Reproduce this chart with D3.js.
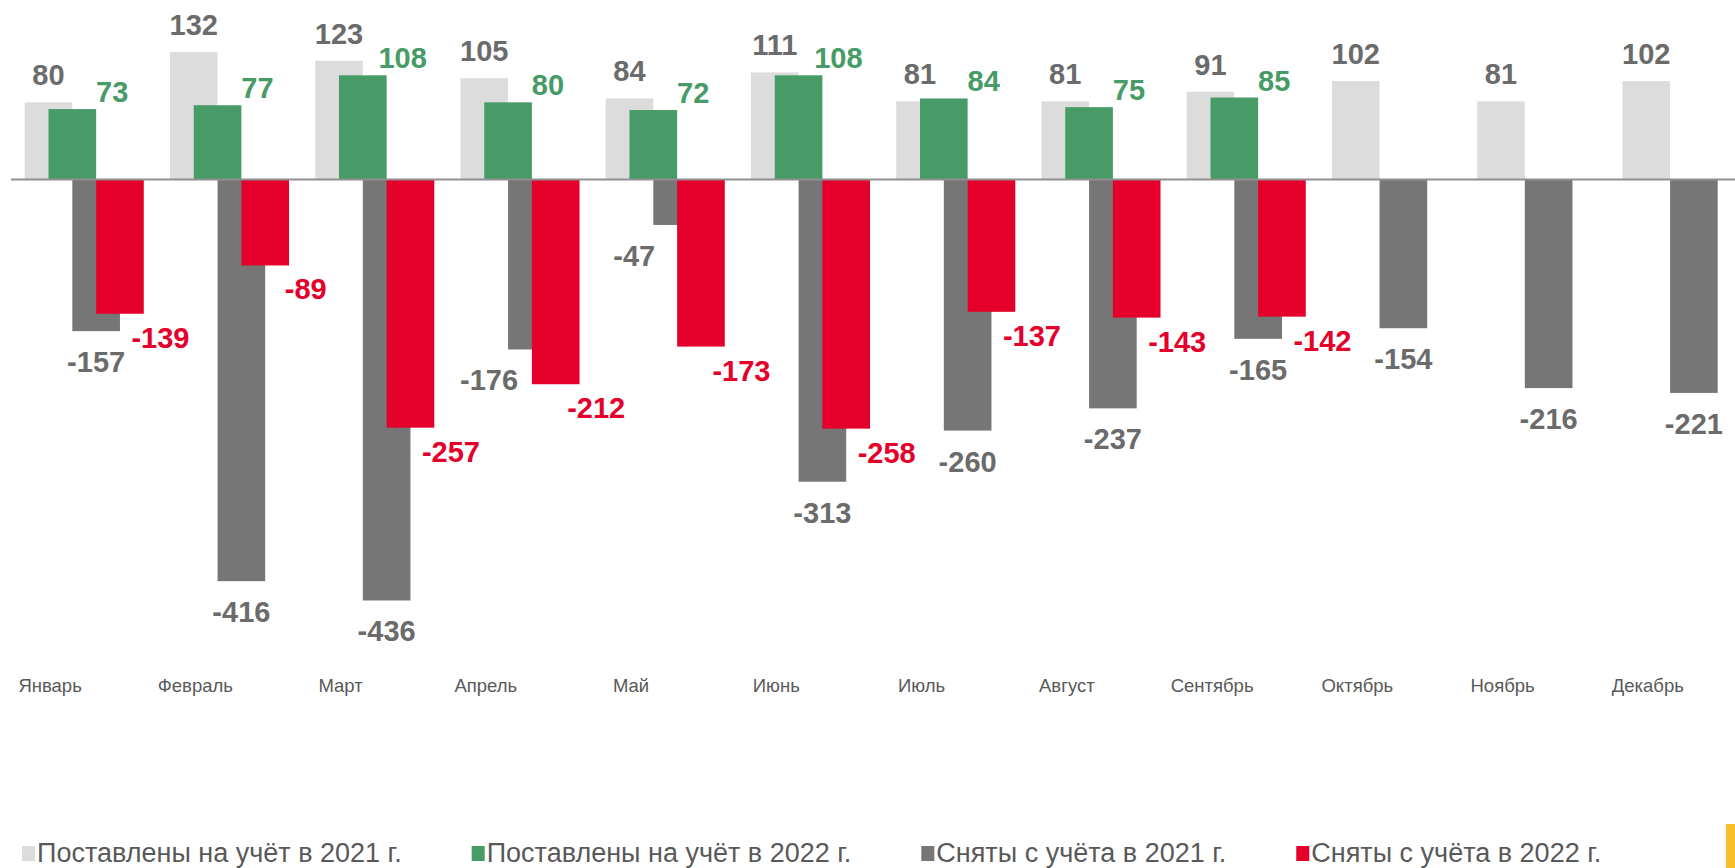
<!DOCTYPE html>
<html>
<head>
<meta charset="utf-8">
<script src="https://cdn.jsdelivr.net/npm/d3@7"></script>
<style>
  html, body { margin: 0; padding: 0; background: #fff; overflow: hidden; }
  svg { display: block; font-family: "Liberation Sans", Arial, sans-serif; }
</style>
</head>
<body>
<svg id="chart" width="1735" height="868"></svg>
<script>
//
// D A T A
//
var months = ['Январь', 'Февраль', 'Март', 'Апрель', 'Май', 'Июнь',
              'Июль', 'Август', 'Сентябрь', 'Октябрь', 'Ноябрь', 'Декабрь'];

var reg2021   = [80, 132, 123, 105, 84, 111, 81, 81, 91, 102, 81, 102];
var reg2022   = [73, 77, 108, 80, 72, 108, 84, 75, 85, null, null, null];
var dereg2021 = [-157, -416, -436, -176, -47, -313, -260, -237, -165, -154, -216, -221];
var dereg2022 = [-139, -89, -257, -212, -173, -258, -137, -143, -142, null, null, null];

var seriesNames = ['Поставлены на учёт в 2021 г.', 'Поставлены на учёт в 2022 г.',
                   'Сняты с учёта в 2021 г.', 'Сняты с учёта в 2022 г.'];

//
// S E T U P
//
var colors = ['#dcdcdc', '#469b66', '#767676', '#e4002b'];
var labelColors = ['#6b6b6b', '#469b66', '#6b6b6b', '#e4002b'];

var svg = d3.select('#chart');

// the band runs past the right edge, the original picture is cropped there
var bandW = 145.25;
var x = d3.scaleBand()
  .domain(months)
  .range([11.6, 11.6 + bandW * months.length])
  .paddingInner(0).paddingOuter(0);

var y = d3.scaleLinear()
  .domain([-450, 186])
  .range([614, 0]);

var barW   = bandW * 0.328;        // bars overlap by half their width
var step   = barW / 2;
var inset  = (x.bandwidth() - (barW + 3 * step)) / 2;

function barX(i, s){ return x(months[i]) + inset + s * step; }

var all = [reg2021, reg2022, dereg2021, dereg2022];

//
// B A R S
//
all.forEach(function(vals, s){
  svg.append('g')
    .selectAll('rect')
    .data(vals.map(function(v, i){ return {v: v, i: i}; }).filter(function(d){ return d.v !== null; }))
    .enter().append('rect')
      .attr('x', function(d){ return barX(d.i, s); })
      .attr('width', barW)
      .attr('y', function(d){ return Math.min(y(d.v), y(0)); })
      .attr('height', function(d){ return Math.abs(y(d.v) - y(0)); })
      .attr('fill', colors[s]);
});

// zero line
svg.append('line')
  .attr('x1', 11).attr('x2', 1735)
  .attr('y1', y(0)).attr('y2', y(0))
  .attr('stroke', '#8f8f8f')
  .attr('stroke-width', 2);

//
// L A B E L S
//
var labelFont = 29;

// registered 2021: centred above the bar
svg.append('g').selectAll('text')
  .data(reg2021).enter().append('text')
    .attr('x', function(d, i){ return barX(i, 0) + barW / 2; })
    .attr('y', function(d){ return y(d) - 17; })
    .attr('text-anchor', 'middle')
    .attr('font-size', labelFont).attr('font-weight', 'bold')
    .attr('fill', labelColors[0])
    .text(function(d){ return d; });

// registered 2022: pushed to the right of the bar
svg.append('g').selectAll('text')
  .data(reg2022.map(function(v, i){ return {v: v, i: i}; }).filter(function(d){ return d.v !== null; }))
  .enter().append('text')
    .attr('x', function(d){ return barX(d.i, 1) + barW + 16; })
    .attr('y', function(d){ return y(d.v) - 7; })
    .attr('text-anchor', 'middle')
    .attr('font-size', labelFont).attr('font-weight', 'bold')
    .attr('fill', labelColors[1])
    .text(function(d){ return d.v; });

// removed 2021: under the bar, moved left when the red bar is longer
svg.append('g').selectAll('text')
  .data(dereg2021).enter().append('text')
    .attr('x', function(d, i){
      var shift = (dereg2022[i] !== null && dereg2022[i] < d) ? -0.9 * barW : 0;
      return barX(i, 2) + barW / 2 + shift;
    })
    .attr('y', function(d){ return y(d) + 41; })
    .attr('text-anchor', 'middle')
    .attr('font-size', labelFont).attr('font-weight', 'bold')
    .attr('fill', labelColors[2])
    .text(function(d){ return d; });

// removed 2022: below right of the bar
svg.append('g').selectAll('text')
  .data(dereg2022.map(function(v, i){ return {v: v, i: i}; }).filter(function(d){ return d.v !== null; }))
  .enter().append('text')
    .attr('x', function(d){ return barX(d.i, 3) + barW / 2 + 0.85 * barW; })
    .attr('y', function(d){ return y(d.v) + 34; })
    .attr('text-anchor', 'middle')
    .attr('font-size', labelFont).attr('font-weight', 'bold')
    .attr('fill', labelColors[3])
    .text(function(d){ return d.v; });

//
// M O N T H S
//
svg.append('g').selectAll('text')
  .data(months).enter().append('text')
    .attr('x', function(d){ return x(d) + x.bandwidth() * 0.265; })
    .attr('y', 692)
    .attr('text-anchor', 'middle')
    .attr('font-size', 18.5)
    .attr('fill', '#595959')
    .text(function(d){ return d; });

//
// L E G E N D
//
var lx = 22;
seriesNames.forEach(function(name, s){
  var g = svg.append('g').attr('transform', 'translate(' + lx + ',0)');
  g.append('rect')
    .attr('x', 0).attr('y', 846)
    .attr('width', 13).attr('height', 15)
    .attr('fill', colors[s]);
  var t = g.append('text')
    .attr('x', 15).attr('y', 862)
    .attr('font-size', 27)
    .attr('fill', '#595959')
    .text(name);
  lx += 15 + t.node().getComputedTextLength() + 70;
});

// the yellow tab in the bottom right corner
svg.append('rect')
  .attr('x', 1726).attr('y', 824)
  .attr('width', 9).attr('height', 44)
  .attr('fill', '#f9bf2b');
</script>
</body>
</html>
